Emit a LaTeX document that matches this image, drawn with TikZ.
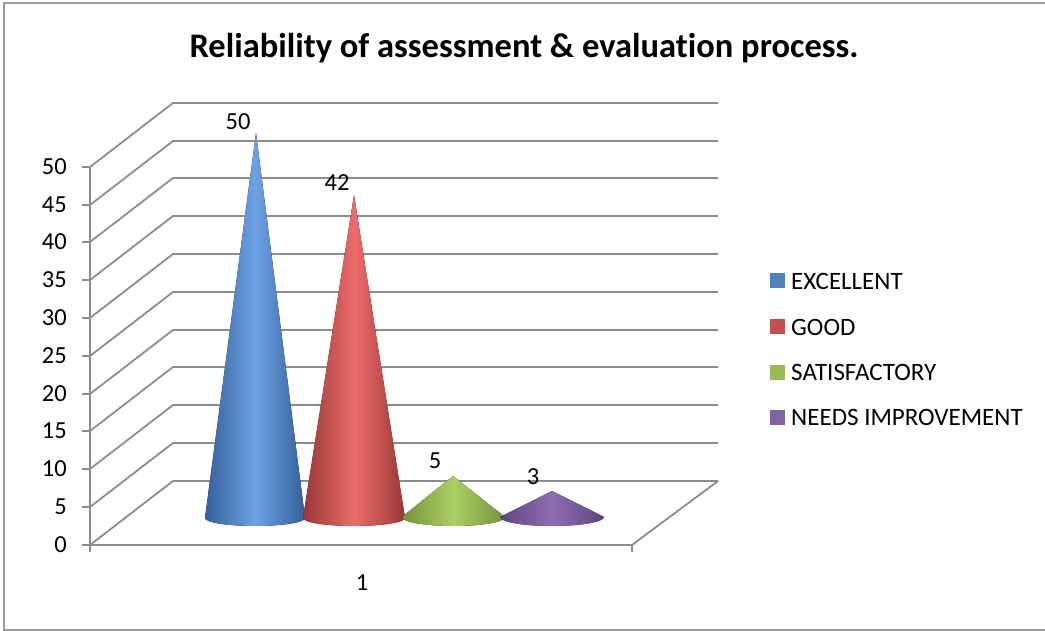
\documentclass[tikz,border=0pt]{standalone}
\usepackage{fontspec}
\setmainfont[Ligatures=NoCommon]{Carlito}
\usepackage{xcolor}
\usepackage{tikz}
\usetikzlibrary{arrows.meta}

\definecolor{gridgray}{HTML}{8C8C8C}
\definecolor{framegray}{HTML}{9A9A9A}
\definecolor{exbase}{HTML}{4F81BD}
\definecolor{exlight}{HTML}{6CA2E4}
\definecolor{exdark}{HTML}{33609A}
\definecolor{gdbase}{HTML}{C0504D}
\definecolor{gdlight}{HTML}{EB6C6B}
\definecolor{gddark}{HTML}{9A3735}
\definecolor{stbase}{HTML}{9BBB59}
\definecolor{stlight}{HTML}{ABD061}
\definecolor{stdark}{HTML}{76913E}
\definecolor{nibase}{HTML}{8064A2}
\definecolor{nilight}{HTML}{8E6DB4}
\definecolor{nidark}{HTML}{5C4680}

\begin{document}
\begin{tikzpicture}[x=1pt,y=-1pt,
  gridline/.style={draw=gridgray, line width=1.8pt},
  ylab/.style={anchor=east, inner sep=0pt, font=\fontsize{24.5}{28}\selectfont},
  vlab/.style={inner sep=0pt, font=\fontsize{24.5}{28}\selectfont},
  leglab/.style={anchor=west, inner sep=0pt, font=\fontsize{25}{28}\selectfont},
  legbox/.style={minimum size=15pt, inner sep=0pt}]
\useasboundingbox (0,0) rectangle (1045,631);

% frame and title
\draw[framegray, line width=1.5pt] (1050,3) -- (4,3) -- (4,630) -- (1050,630);
\node[inner sep=0pt, anchor=base, font=\bfseries\fontsize{34.5}{40}\selectfont] (title) at (524,58)
  {Reliability of assessment \& evaluation process.};

% back wall and side wall
\draw[gridline]
  (90,545) -- (173,481) -- (718,481)
  (90,507) -- (173,443) -- (718,443)
  (90,469) -- (173,405) -- (718,405)
  (90,431) -- (173,367) -- (718,367)
  (90,394) -- (173,330) -- (718,330)
  (90,356) -- (173,292) -- (718,292)
  (90,318) -- (173,254) -- (718,254)
  (90,280) -- (173,216) -- (718,216)
  (90,242) -- (173,178) -- (718,178)
  (90,205) -- (173,141) -- (718,141)
  (90,167) -- (173,103) -- (718,103);

% floor and axis
\draw[gridline]
  (90,545) -- (632,545) -- (718,481)
  (632,545) -- (632,552)
  (90,167) -- (90,552)
  (82,545) -- (90,545)
  (82,507) -- (90,507)
  (82,469) -- (90,469)
  (82,431) -- (90,431)
  (82,394) -- (90,394)
  (82,356) -- (90,356)
  (82,318) -- (90,318)
  (82,280) -- (90,280)
  (82,242) -- (90,242)
  (82,205) -- (90,205)
  (82,167) -- (90,167);

\node[ylab] (y0) at (67,545) {0};
\node[ylab] (y5) at (67,507) {5};
\node[ylab] (y10) at (67,469) {10};
\node[ylab] (y15) at (67,431) {15};
\node[ylab] (y20) at (67,394) {20};
\node[ylab] (y25) at (67,356) {25};
\node[ylab] (y30) at (67,318) {30};
\node[ylab] (y35) at (67,280) {35};
\node[ylab] (y40) at (67,242) {40};
\node[ylab] (y45) at (67,205) {45};
\node[ylab] (y50) at (67,167) {50};

% cones
\fill[left color=exdark, right color=exdark, middle color=exlight]
  (205,518) -- (256,133) -- (305,518) arc[start angle=0, end angle=180, x radius=50, y radius=8] -- cycle;
\fill[left color=gddark, right color=gddark, middle color=gdlight]
  (303,518) -- (354,195) -- (405,518) arc[start angle=0, end angle=180, x radius=51, y radius=8] -- cycle;
\fill[left color=stdark, right color=stdark, middle color=stlight]
  (402,517) -- (453,476) -- (505,517) arc[start angle=0, end angle=180, x radius=51.5, y radius=9] -- cycle;
\fill[left color=nidark, right color=nidark, middle color=nilight]
  (500,517) -- (552,491) -- (604,517) arc[start angle=0, end angle=180, x radius=52, y radius=9] -- cycle;

% values
\node[vlab] (v50) at (238,122) {50};
\node[vlab] (v42) at (337,183) {42};
\node[vlab] (v5) at (435,461) {5};
\node[vlab] (v3) at (533,477) {3};

\node[vlab] (cat) at (362,583) {1};

% legend
\node[legbox, fill=exbase] (kex) at (777.5,281) {};
\node[leglab] (lex) at (791,281) {EXCELLENT};
\node[legbox, fill=gdbase] (kgd) at (777.5,327) {};
\node[leglab] (lgd) at (791,327) {GOOD};
\node[legbox, fill=stbase] (kst) at (777.5,372) {};
\node[leglab] (lst) at (791,372) {SATISFACTORY};
\node[legbox, fill=nibase] (kni) at (777.5,417) {};
\node[leglab] (lni) at (791,417) {NEEDS IMPROVEMENT};
\end{tikzpicture}
\end{document}
